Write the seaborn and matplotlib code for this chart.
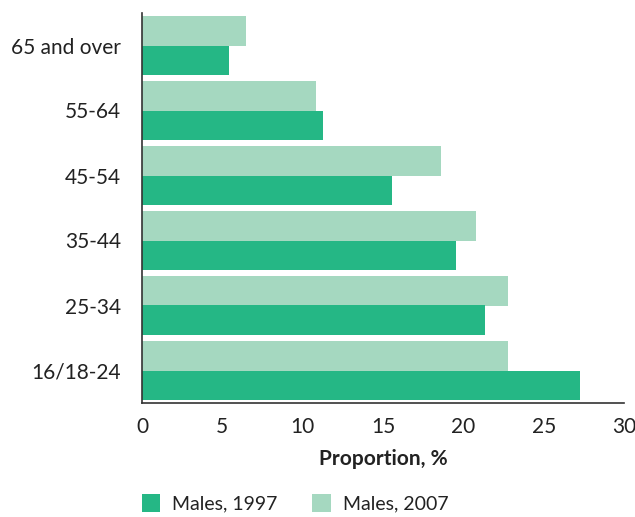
import matplotlib
matplotlib.use("Agg")
import matplotlib.pyplot as plt
import seaborn as sns
import pandas as pd
from matplotlib.patches import Patch

categories = ["65 and over", "55-64", "45-54", "35-44", "25-34", "16/18-24"]
males_1997 = [5.4, 11.25, 15.55, 19.55, 21.35, 27.25]
males_2007 = [6.5, 10.8, 18.6, 20.8, 22.75, 22.75]
x_ticks = [0, 5, 10, 15, 20, 25, 30]

dark = "#25b785"
light = "#a5d8c0"

df = pd.DataFrame({
    "Age": categories * 2,
    "Value": males_2007 + males_1997,
    "Series": ["Males, 2007"] * len(categories) + ["Males, 1997"] * len(categories),
})

sns.set_style("white")
plt.rcParams["font.family"] = ["Lato", "DejaVu Sans"]

fig = plt.figure(figsize=(6.35, 5.17), dpi=100)
ax = fig.add_axes([142 / 635, 1 - 403 / 517, (624 - 142) / 635, (403 - 13) / 517])

sns.barplot(data=df, x="Value", y="Age", hue="Series", order=categories,
            hue_order=["Males, 2007", "Males, 1997"],
            palette={"Males, 2007": light, "Males, 1997": dark},
            orient="h", width=0.9, saturation=1, ax=ax, legend=False,
            edgecolor="none")

ax.set_xlim(0, 30)
ax.set_ylim(5.5, -0.5)
ax.set_xticks(x_ticks)
ax.set_xticklabels([str(t) for t in x_ticks], fontsize=15, color="#222222")
ax.set_yticks([i - 0.5 for i in range(len(categories) + 1)])
ax.set_yticklabels([])
ax.set_yticks(range(len(categories)), minor=True)
ax.set_yticklabels(categories, minor=True, fontsize=15, color="#222222")
ax.tick_params(axis="y", which="minor", length=0, pad=15)
ax.tick_params(axis="y", which="major", length=5, width=1.2, color="#333333", direction="out")
ax.tick_params(axis="x", length=5, width=1.2, color="#333333", pad=5)
ax.set_ylabel("")
ax.set_xlabel("Proportion, %", fontsize=15, fontweight="bold", color="#222222", labelpad=9)

for side in ["top", "right"]:
    ax.spines[side].set_visible(False)
for side in ["left", "bottom"]:
    ax.spines[side].set_color("#333333")
    ax.spines[side].set_linewidth(1.2)

handles = [Patch(facecolor=dark, edgecolor="none", label="Males, 1997"),
           Patch(facecolor=light, edgecolor="none", label="Males, 2007")]
fig.legend(handles=handles, loc="lower left", bbox_to_anchor=(0.196, -0.025),
           ncol=2, frameon=False, fontsize=14, handlelength=0.95, handleheight=1.05,
           columnspacing=1.8, handletextpad=0.6, labelcolor="#222222")

fig.savefig("out.png", dpi=100)
